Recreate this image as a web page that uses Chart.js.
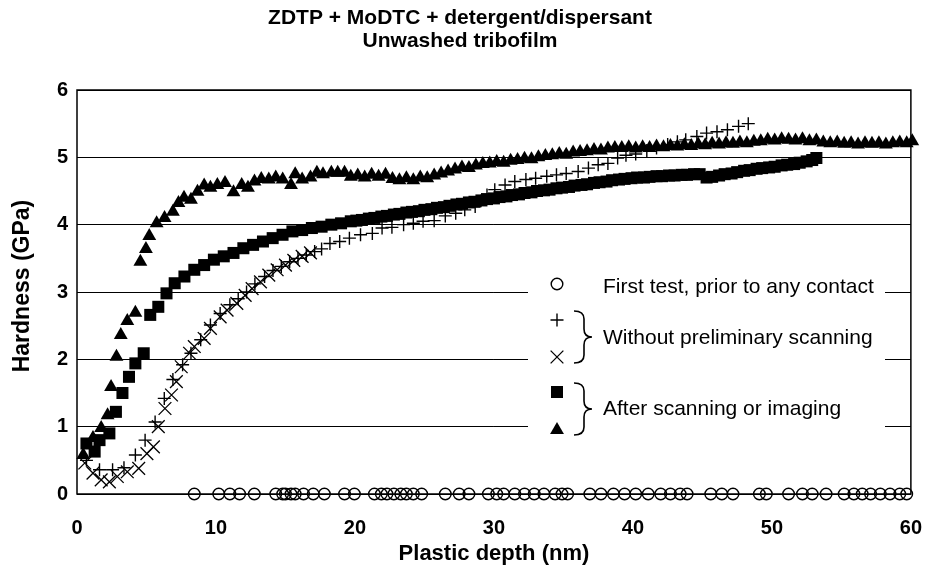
<!DOCTYPE html>
<html>
<head>
<meta charset="utf-8">
<script src="https://cdn.jsdelivr.net/npm/chart.js@4.4.1/dist/chart.umd.min.js"></script>
<style>
  html, body { margin: 0; padding: 0; background: #fff; }
  canvas { display: block; }
</style>
</head>
<body>
<canvas id="c" width="944" height="567" style="width:944px;height:567px"></canvas>
<script>
// ---- Data (x = plastic depth nm, y = hardness GPa) ----
const titleLines = ['ZDTP + MoDTC + detergent/dispersant', 'Unwashed tribofilm'];
const xAxisTitle = 'Plastic depth (nm)';
const yAxisTitle = 'Hardness (GPa)';
const xTicks = [0, 10, 20, 30, 40, 50, 60];
const yTicks = [0, 1, 2, 3, 4, 5, 6];
const legendLabels = ['First test, prior to any contact', 'Without preliminary scanning', 'After scanning or imaging'];

// First test, prior to any contact (open circles)
const circlePts = [[8.44,0],[10.2,0],[11.0,0],[11.7,0],[12.76,0],[14.3,0],[14.8,0],[15.0,0],[15.4,0],[15.7,0],
  [16.3,0],[17.0,0],[17.8,0],[19.25,0],[19.96,0],[21.4,0],[21.9,0],[22.3,0],[22.8,0],[23.3,0],[23.7,0],[24.2,0],
  [24.8,0],[26.5,0],[27.5,0],[28.2,0],[29.6,0],[30.2,0],[30.7,0],[31.5,0],[32.2,0],[32.9,0],[33.6,0],[34.4,0],
  [34.9,0],[35.3,0],[36.9,0],[37.7,0],[38.6,0],[39.4,0],[40.2,0],[41.1,0],[42.0,0],[42.7,0],[43.4,0],[43.9,0],
  [45.6,0],[46.4,0],[47.2,0],[49.1,0],[49.6,0],[51.2,0],[52.2,0],[52.9,0],[53.9,0],[55.2,0],[55.9,0],[56.5,0],
  [57.1,0],[57.8,0],[58.5,0],[59.2,0],[59.7,0]];

// Without preliminary scanning (+)
const plusPts = [[0.68,0.5],[1.62,0.36],[2.56,0.36],[3.38,0.39],[4.2,0.58],[4.9,0.8],[5.62,1.07],[6.28,1.42],
  [6.9,1.7],[7.6,1.92],[8.2,2.09],[8.9,2.29],[9.6,2.51],[10.3,2.68],[11.0,2.81],[11.6,2.9],[12.2,3.0],[12.8,3.12],
  [13.5,3.23],[14.1,3.32],[14.7,3.38],[15.3,3.45],[15.9,3.5],[16.5,3.55],[17.1,3.6],[17.6,3.64],[18.2,3.72],
  [18.9,3.75],[19.6,3.8],[20.4,3.85],[21.25,3.87],[21.95,3.95],[22.66,3.96],[23.5,4.0],[24.2,4.02],[24.9,4.05],
  [25.7,4.06],[26.5,4.13],[27.25,4.17],[27.9,4.22],[28.65,4.27],[29.5,4.44],[30.06,4.52],[30.8,4.59],[31.5,4.64],
  [32.3,4.67],[33.0,4.69],[33.8,4.72],[34.5,4.74],[35.2,4.76],[36.06,4.79],[36.8,4.84],[37.5,4.89],[38.2,4.91],
  [38.9,4.99],[39.5,5.03],[40.2,5.05],[41.0,5.1],[41.7,5.14],[42.5,5.19],[43.2,5.23],[43.8,5.26],[44.6,5.31],
  [45.3,5.36],[46.05,5.38],[46.8,5.41],[47.6,5.46],[48.3,5.5]];

// Without preliminary scanning (x)
const crossPts = [[0.56,0.46],[1.15,0.31],[1.74,0.21],[2.33,0.18],[2.9,0.26],[3.62,0.33],[4.44,0.38],[5.03,0.6],
  [5.5,0.7],[5.85,1.0],[6.33,1.27],[6.8,1.47],[7.15,1.67],[7.5,1.89],[8.1,2.09],[8.44,2.19],[9.15,2.31],[9.6,2.46],
  [10.3,2.63],[10.8,2.73],[11.5,2.83],[12.1,2.95],[12.6,3.05],[13.2,3.15],[13.8,3.25],[14.4,3.33],[15.0,3.4],
  [15.6,3.47],[16.2,3.53],[16.8,3.58]];

// After scanning or imaging (filled squares)
const squarePts = [[0.68,0.75],[1.27,0.63],[1.62,0.8],[2.33,0.9],[2.8,1.22],[3.27,1.5],[3.74,1.74],[4.2,1.94],
  [4.8,2.09],[5.27,2.66],[5.85,2.78],[6.44,2.98],[7.03,3.13],[7.73,3.23],[8.44,3.33],[9.15,3.4],[9.85,3.48],
  [10.56,3.53],[11.26,3.58],[11.97,3.65],[12.67,3.7],[13.38,3.75],[14.08,3.8],[14.79,3.85],[15.5,3.9],[16.2,3.92],
  [16.9,3.95],[17.6,3.97],[18.3,4.0],[19.0,4.02],[19.7,4.05],[20.1,4.06],[20.5,4.07],[21.0,4.09],[21.4,4.1],
  [21.9,4.12],[22.3,4.13],[22.8,4.15],[23.2,4.16],[23.7,4.18],[24.1,4.19],[24.6,4.2],[25.0,4.22],[25.5,4.23],
  [25.9,4.25],[26.4,4.26],[26.8,4.28],[27.3,4.3],[27.7,4.31],[28.2,4.33],[28.6,4.34],[29.1,4.36],[29.5,4.38],
  [30.0,4.39],[30.4,4.41],[30.9,4.42],[31.3,4.44],[31.8,4.45],[32.2,4.47],[32.7,4.48],[33.1,4.5],[33.6,4.51],
  [34.0,4.52],[34.5,4.54],[34.9,4.55],[35.4,4.56],[35.8,4.58],[36.3,4.59],[36.7,4.6],[37.2,4.62],[37.6,4.63],
  [38.1,4.64],[38.5,4.66],[39.0,4.67],[39.4,4.68],[39.9,4.69],[40.3,4.7],[40.8,4.7],[41.2,4.71],[41.7,4.72],
  [42.1,4.72],[42.6,4.73],[43.0,4.73],[43.5,4.74],[43.9,4.74],[44.4,4.75],[44.8,4.75],[45.3,4.7],[45.7,4.71],
  [46.2,4.73],[46.6,4.75],[47.1,4.76],[47.5,4.78],[48.0,4.8],[48.4,4.81],[48.9,4.83],[49.3,4.84],[49.8,4.85],
  [50.2,4.86],[50.7,4.88],[51.1,4.89],[51.6,4.9],[52.0,4.92],[52.5,4.94],[52.9,4.96],[53.2,4.99]];

// After scanning or imaging (filled triangles)
const trianglePts = [[0.45,0.58],[1.15,0.83],[1.74,0.98],[2.2,1.17],[2.45,1.59],[2.84,2.04],[3.15,2.36],[3.62,2.57],
  [4.2,2.69],[4.56,3.45],[4.96,3.64],[5.2,3.83],[5.73,4.02],[6.3,4.1],[6.9,4.19],[7.3,4.32],[7.7,4.4],[8.2,4.37],
  [8.67,4.49],[9.15,4.58],[9.6,4.55],[10.1,4.59],[10.65,4.62],[11.26,4.48],[11.85,4.59],[12.3,4.55],[12.77,4.64],
  [13.26,4.68],[13.8,4.67],[14.3,4.7],[14.8,4.67],[15.4,4.59],[15.7,4.75],[16.2,4.67],[16.8,4.7],[17.26,4.77],
  [17.7,4.75],[18.3,4.77],[18.76,4.77],[19.25,4.77],[19.7,4.71],[20.2,4.73],[20.7,4.7],[21.2,4.74],[21.7,4.71],
  [22.2,4.74],[22.7,4.68],[23.2,4.66],[23.7,4.69],[24.2,4.66],[24.7,4.7],[25.2,4.69],[25.7,4.73],[26.2,4.76],
  [26.7,4.79],[27.2,4.82],[27.7,4.85],[28.2,4.84],[28.7,4.88],[29.2,4.9],[29.7,4.91],[30.2,4.93],[30.7,4.92],
  [31.2,4.95],[31.7,4.96],[32.2,4.98],[32.7,4.97],[33.2,5.0],[33.7,5.02],[34.2,5.03],[34.7,5.05],[35.2,5.04],
  [35.7,5.07],[36.2,5.08],[36.7,5.09],[37.2,5.11],[37.7,5.1],[38.2,5.13],[38.7,5.14],[39.2,5.14],[39.7,5.15],
  [40.2,5.13],[40.7,5.15],[41.2,5.14],[41.7,5.16],[42.2,5.15],[42.7,5.17],[43.2,5.16],[43.7,5.18],[44.2,5.17],
  [44.7,5.19],[45.2,5.18],[45.7,5.2],[46.2,5.19],[46.7,5.21],[47.2,5.2],[47.7,5.22],[48.2,5.21],[48.7,5.23],
  [49.2,5.24],[49.7,5.26],[50.2,5.25],[50.7,5.27],[51.2,5.26],[51.7,5.25],[52.2,5.27],[52.7,5.24],[53.2,5.25],
  [53.7,5.22],[54.2,5.21],[54.7,5.22],[55.2,5.2],[55.7,5.21],[56.2,5.19],[56.7,5.21],[57.2,5.2],[57.7,5.21],
  [58.2,5.19],[58.7,5.21],[59.2,5.22],[59.7,5.21],[60.1,5.24]];

// ---- Chart ----
const FONT = '"Liberation Sans", Arial, Helvetica, sans-serif';
const toXY = pts => pts.map(p => ({ x: p[0], y: p[1] }));

const styles = {
  circle:   { pointStyle: 'circle',   pointRadius: 5.8, borderWidth: 1.4, bg: 'rgba(0,0,0,0)' },
  plus:     { pointStyle: 'cross',    pointRadius: 6.5, borderWidth: 1.4, bg: 'rgba(0,0,0,0)' },
  cross:    { pointStyle: 'crossRot', pointRadius: 9,   borderWidth: 1.3, bg: 'rgba(0,0,0,0)' },
  square:   { pointStyle: 'rect',     pointRadius: 8.5, borderWidth: 0,   bg: '#000' },
  triangle: { pointStyle: 'triangle', pointRadius: 8,   borderWidth: 0,   bg: '#000' }
};

function ds(label, pts, st, order) {
  return {
    label, data: toXY(pts), showLine: false, clip: false, order,
    pointStyle: st.pointStyle, pointRadius: st.pointRadius, pointHoverRadius: st.pointRadius,
    pointBorderWidth: st.borderWidth, pointBorderColor: '#000', pointBackgroundColor: st.bg,
    borderColor: '#000', backgroundColor: st.bg
  };
}

function drawMarker(ctx, st, x, y) {
  ctx.save();
  ctx.strokeStyle = '#000';
  ctx.fillStyle = st.bg;
  ctx.lineWidth = st.borderWidth;
  if (Chart.helpers && Chart.helpers.drawPoint) {
    Chart.helpers.drawPoint(ctx, { pointStyle: st.pointStyle, radius: st.pointRadius, rotation: 0, borderWidth: st.borderWidth }, x, y);
  }
  ctx.restore();
}

function drawBrace(ctx, xl, yTop, yBot) {
  const xs = xl + 10, xt = xl + 18, r = 8;
  const ym = (yTop + yBot) / 2;
  ctx.beginPath();
  ctx.moveTo(xl, yTop);
  ctx.quadraticCurveTo(xs, yTop, xs, yTop + r);
  ctx.lineTo(xs, ym - r);
  ctx.quadraticCurveTo(xs, ym, xt, ym);
  ctx.quadraticCurveTo(xs, ym, xs, ym + r);
  ctx.lineTo(xs, yBot - r);
  ctx.quadraticCurveTo(xs, yBot, xl, yBot);
  ctx.stroke();
}

const decor = {
  id: 'decor',
  beforeDatasetsDraw(chart) {
    const { ctx, chartArea: a } = chart;
    ctx.save();
    // legend panel (white box covering gridlines)
    ctx.fillStyle = '#fff';
    ctx.fillRect(528, 255, 357, 200);
    // frame
    ctx.strokeStyle = '#000';
    ctx.lineWidth = 1.5;
    ctx.strokeRect(a.left, a.top, a.right - a.left, a.bottom - a.top);
    // legend markers
    const lx = 557;
    drawMarker(ctx, styles.circle, lx, 284);
    drawMarker(ctx, styles.plus, lx, 320);
    drawMarker(ctx, styles.cross, lx, 357);
    drawMarker(ctx, styles.square, lx, 392);
    drawMarker(ctx, styles.triangle, lx, 430);
    ctx.strokeStyle = '#000';
    ctx.lineWidth = 1.6;
    drawBrace(ctx, 574, 311, 363);
    drawBrace(ctx, 574, 383, 435);
    ctx.fillStyle = '#000';
    ctx.font = '21px ' + FONT;
    ctx.textAlign = 'left';
    ctx.textBaseline = 'middle';
    ctx.fillText(legendLabels[0], 603, 287);
    ctx.fillText(legendLabels[1], 603, 338);
    ctx.fillText(legendLabels[2], 603, 409);
    ctx.restore();
  },
  afterDraw(chart) {
    const { ctx, chartArea: a } = chart;
    ctx.save();
    ctx.fillStyle = '#000';
    ctx.textAlign = 'center';
    ctx.textBaseline = 'middle';
    ctx.font = 'bold 21px ' + FONT;
    ctx.fillText(titleLines[0], 460, 18);
    ctx.fillText(titleLines[1], 460, 41);
    ctx.font = 'bold 22px ' + FONT;
    ctx.fillText(xAxisTitle, (a.left + a.right) / 2, 554);
    ctx.font = 'bold 23px ' + FONT;
    ctx.translate(23, 286);
    ctx.rotate(-Math.PI / 2);
    ctx.fillText(yAxisTitle, 0, 0);
    ctx.restore();
  }
};

new Chart(document.getElementById('c').getContext('2d'), {
  type: 'scatter',
  data: {
    datasets: [
      ds(legendLabels[0], circlePts, styles.circle, 5),
      ds(legendLabels[1] + ' (+)', plusPts, styles.plus, 4),
      ds(legendLabels[1] + ' (x)', crossPts, styles.cross, 3),
      ds(legendLabels[2] + ' (squares)', squarePts, styles.square, 2),
      ds(legendLabels[2] + ' (triangles)', trianglePts, styles.triangle, 1)
    ]
  },
  options: {
    responsive: false,
    animation: false,
    layout: { padding: { top: 90, right: 15, left: 0, bottom: 0 } },
    plugins: { legend: { display: false }, tooltip: { enabled: false }, title: { display: false } },
    scales: {
      x: {
        type: 'linear', min: xTicks[0], max: xTicks[xTicks.length - 1],
        afterBuildTicks: s => { s.ticks = xTicks.map(v => ({ value: v })); },
        ticks: { color: '#000', font: { family: FONT, size: 20, weight: 'bold' }, padding: 22, maxRotation: 0 },
        grid: { display: false, drawTicks: false },
        border: { display: false },
        afterFit: s => { s.height = 73; }
      },
      y: {
        type: 'linear', min: yTicks[0], max: yTicks[yTicks.length - 1],
        afterBuildTicks: s => { s.ticks = yTicks.map(v => ({ value: v })); },
        ticks: { color: '#000', font: { family: FONT, size: 20, weight: 'bold' }, padding: 9 },
        grid: { color: '#000', lineWidth: 1, drawTicks: false },
        border: { display: false },
        afterFit: s => { s.width = 77; }
      }
    }
  },
  plugins: [decor]
});
</script>
</body>
</html>
